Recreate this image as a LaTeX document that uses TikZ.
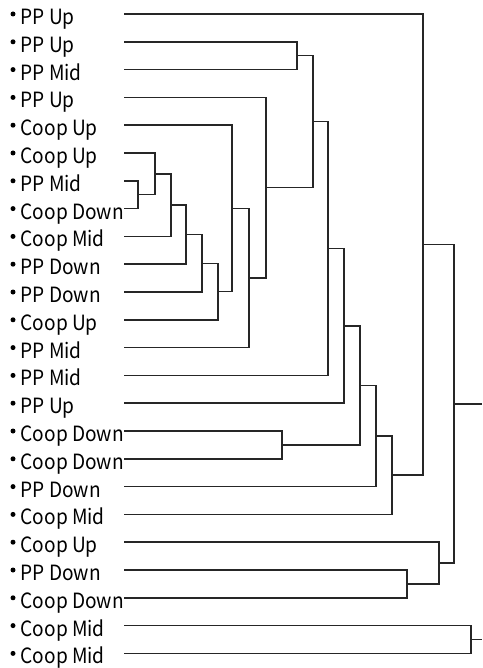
\documentclass[tikz,border=0pt]{standalone}
\usepackage{fontspec}
\setmainfont{Noto Sans CJK KR}[FakeStretch=0.91]
\usetikzlibrary{calc}

\begin{document}
\begin{tikzpicture}[x=1pt, y=-1pt,
    link/.style={line width=1.5pt, black!85},
    leaf/.style={anchor=base west, inner sep=0pt, font=\fontsize{21}{24}\selectfont}]
  \useasboundingbox (0,0) rectangle (482,668);
  \def\dy{27.8}
  \foreach \i/\txt in {
    1/PP Up, 2/PP Up, 3/PP Mid, 4/PP Up, 5/Coop Up, 6/Coop Up, 7/PP Mid, 8/Coop Down,
    9/Coop Mid, 10/PP Down, 11/PP Down, 12/Coop Up, 13/PP Mid, 14/PP Mid, 15/PP Up,
    16/Coop Down, 17/Coop Down, 18/PP Down, 19/Coop Mid, 20/Coop Up, 21/PP Down,
    22/Coop Down, 23/Coop Mid, 24/Coop Mid}
  {
    \coordinate (s\i) at (124,{14+(\i-1)*\dy});
    \fill[black] (13,{14+(\i-1)*\dy}) circle[radius=2.5];
    \node[leaf] (t\i) at (20.5,{24.5+(\i-1)*\dy}) {\txt};
  }
  \foreach \m/\a/\b/\x in {
    n1/s7/s8/138, n2/s6/n1/155, n3/n2/s9/171, n4/n3/s10/186, n5/n4/s11/202,
    n6/n5/s12/218, n7/s5/n6/232, n8/n7/s13/249, n9/s4/n8/266, n10/s2/s3/297,
    n11/n10/n9/313, n12/n11/s14/328, n13/n12/s15/344, n14/s16/s17/282,
    n15/n13/n14/360, n16/n15/s18/376, n17/n16/s19/392, n18/s1/n17/423,
    n19/s21/s22/407, n20/s20/n19/439, n21/n18/n20/454, n22/s23/s24/471}
  {
    \coordinate (\m mid) at ($(\a)!0.5!(\b)$);
    \coordinate (\m) at (\m mid -| \x,0);
    \draw[link] (\a) -| (\m) |- (\b);
  }
  \coordinate (e1) at (n21 -| 482,0);
  \coordinate (e2) at (n22 -| 482,0);
  \draw[link] (n21) -- (e1);
  \draw[link] (n22) -- (e2);
\end{tikzpicture}
\end{document}
